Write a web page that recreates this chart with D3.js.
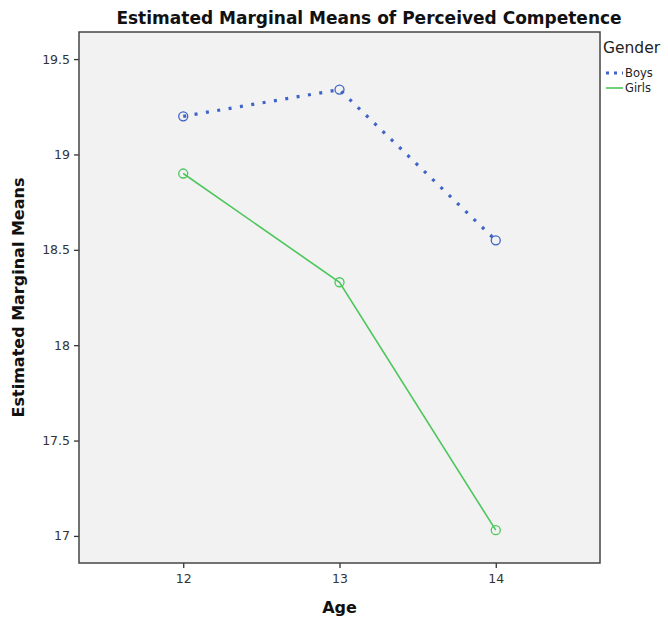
<!DOCTYPE html>
<html>
<head>
<meta charset="utf-8">
<script src="https://d3js.org/d3.v7.min.js"></script>
<style>
  body { margin: 0; background: #fff; }
  svg text { font-family: "DejaVu Sans", sans-serif; }
</style>
</head>
<body>
<div id="chart"></div>
<script>
// data
var ages = [12, 13, 14];
var boys = [19.20, 19.34, 18.55];
var girls = [18.90, 18.33, 17.03];
var yTicks = [17, 17.5, 18, 18.5, 19, 19.5];
var seriesNames = ['Boys', 'Girls'];

var W = 668, H = 620;
var m = {t: 32, l: 79, r: 68, b: 57};
var w = W - m.l - m.r, h = H - m.t - m.b;

var svg = d3.select('#chart').append('svg')
    .attr('width', W).attr('height', H);

// title
svg.append('text')
    .attr('x', 369).attr('y', 24)
    .attr('text-anchor', 'middle')
    .attr('font-size', 17).attr('font-weight', 'bold')
    .attr('fill', '#111')
    .text('Estimated Marginal Means of Perceived Competence');

var g = svg.append('g')
    .attr('transform', 'translate(' + m.l + ',' + m.t + ')');

var x = d3.scaleLinear().domain([11.333, 14.667]).range([0, w]);
var y = d3.scaleLinear().domain([16.858, 19.642]).range([h, 0]);

// plot background
g.append('rect')
    .attr('width', w).attr('height', h)
    .attr('fill', '#f2f2f2');

// axes
var yAxis = g.append('g')
    .call(d3.axisLeft(y).tickValues(yTicks).tickSize(5).tickPadding(4)
        .tickFormat(function(d) { return d3.format('')(d); }));
var xAxis = g.append('g')
    .attr('transform', 'translate(0,' + h + ')')
    .call(d3.axisBottom(x).tickValues(ages).tickSize(5).tickPadding(6)
        .tickFormat(d3.format('d')));

[yAxis, xAxis].forEach(function(a) {
    a.select('.domain').remove();
    a.selectAll('line').attr('stroke', '#333').attr('stroke-width', 1.3);
    a.selectAll('text').attr('font-size', 12.5).attr('fill', '#333')
        .style('font-family', '"DejaVu Sans", sans-serif');
});

// frame
g.append('rect')
    .attr('width', w).attr('height', h)
    .attr('fill', 'none').attr('stroke', '#444').attr('stroke-width', 1.5);

// axis titles
svg.append('text')
    .attr('transform', 'translate(24,' + (m.t + h / 2) + ') rotate(-90)')
    .attr('text-anchor', 'middle')
    .attr('font-size', 16).attr('font-weight', 'bold').attr('fill', '#111')
    .text('Estimated Marginal Means');
svg.append('text')
    .attr('x', m.l + x(13)).attr('y', 613)
    .attr('text-anchor', 'middle')
    .attr('font-size', 16).attr('font-weight', 'bold').attr('fill', '#111')
    .text('Age');

// lines
var series = [
    {name: seriesNames[0], vals: boys, color: '#3f63c6', width: 3.2, dash: '3,8.5'},
    {name: seriesNames[1], vals: girls, color: '#4cc75b', width: 1.6, dash: null}
];

var line = d3.line()
    .x(function(d, i) { return x(ages[i]); })
    .y(function(d) { return y(d); });

series.forEach(function(s) {
    g.append('path')
        .datum(s.vals)
        .attr('d', line)
        .attr('fill', 'none')
        .attr('stroke', s.color)
        .attr('stroke-width', s.width)
        .attr('stroke-dasharray', s.dash);

    g.selectAll('.pt-' + s.name).data(s.vals).enter()
        .append('circle')
        .attr('cx', function(d, i) { return x(ages[i]); })
        .attr('cy', function(d) { return y(d); })
        .attr('r', 4.5)
        .attr('fill', 'none')
        .attr('stroke', s.color)
        .attr('stroke-width', 1.3);
});

// legend
var lg = svg.append('g').attr('transform', 'translate(603,0)');
lg.append('text')
    .attr('x', 0).attr('y', 53)
    .attr('font-size', 15.5).attr('fill', '#222')
    .text('Gender');
series.forEach(function(s, i) {
    var ly = 73 + i * 15;
    lg.append('line')
        .attr('x1', 3).attr('x2', 20)
        .attr('y1', ly).attr('y2', ly)
        .attr('stroke', s.color)
        .attr('stroke-width', i === 0 ? 3 : 1.6)
        .attr('stroke-dasharray', i === 0 ? '3,5' : null);
    lg.append('text')
        .attr('x', 22).attr('y', ly + 4)
        .attr('font-size', 11.5).attr('fill', '#222')
        .text(s.name);
});
</script>
</body>
</html>
